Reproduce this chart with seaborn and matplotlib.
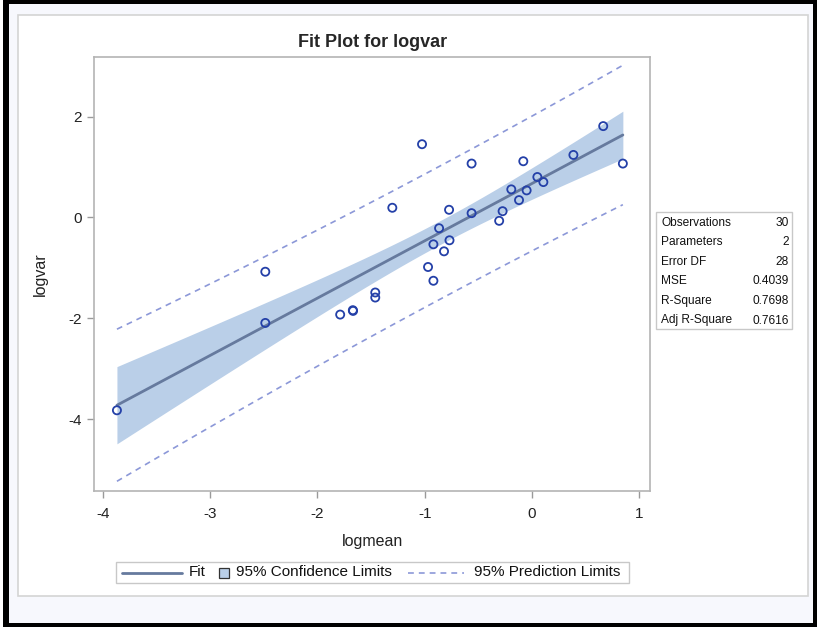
import numpy as np
import pandas as pd
import matplotlib
matplotlib.use('Agg')
import matplotlib.pyplot as plt
import seaborn as sns
from matplotlib.patches import Rectangle
from matplotlib.lines import Line2D

logmean = [-3.869, -2.486, -2.486, -1.788, -1.670, -1.668, -1.461, -1.461, -1.302, -1.025,
           -0.969, -0.919, -0.919, -0.866, -0.820, -0.773, -0.769, -0.563, -0.563, -0.306,
           -0.274, -0.193, -0.121, -0.081, -0.050, 0.050, 0.106, 0.386, 0.664, 0.847]
logvar = [-3.825, -1.076, -2.092, -1.926, -1.839, -1.853, -1.488, -1.588, 0.193, 1.454,
          -0.982, -0.532, -1.255, -0.213, -0.671, 0.153, -0.452, 1.070, 0.086, -0.066,
          0.125, 0.558, 0.345, 1.116, 0.538, 0.803, 0.703, 1.241, 1.813, 1.070]

stat_names = ['Observations', 'Parameters', 'Error DF', 'MSE', 'R-Square', 'Adj R-Square']
stat_values = ['30', '2', '28', '0.4039', '0.7698', '0.7616']

df = pd.DataFrame({'logmean': logmean, 'logvar': logvar})

# least squares fit with 95% confidence and prediction limits
x = df['logmean'].to_numpy()
y = df['logvar'].to_numpy()
n = len(x)
b1, b0 = np.polyfit(x, y, 1)
resid = y - (b0 + b1 * x)
s = np.sqrt(np.sum(resid ** 2) / (n - 2))
t = 2.0484  # t(0.975, 28)
xg = np.linspace(x.min(), x.max(), 200)
yg = b0 + b1 * xg
sxx = np.sum((x - x.mean()) ** 2)
se_m = s * np.sqrt(1 / n + (xg - x.mean()) ** 2 / sxx)
se_p = s * np.sqrt(1 + 1 / n + (xg - x.mean()) ** 2 / sxx)
fit = pd.DataFrame({'x': xg, 'fit': yg,
                    'lcl': yg - t * se_m, 'ucl': yg + t * se_m,
                    'lpl': yg - t * se_p, 'upl': yg + t * se_p})

sns.set_style('white')
plt.rcParams['font.family'] = ['Liberation Sans', 'DejaVu Sans']

fig = plt.figure(figsize=(8.17, 6.27), dpi=100, facecolor='black')
W, H = 817, 627


def px_rect(x0, y0, x1, y1, **kw):
    return Rectangle((x0 / W, 1 - y1 / H), (x1 - x0) / W, (y1 - y0) / H,
                     transform=fig.transFigure, **kw)


def px(xp, yp):
    return xp / W, 1 - yp / H


fig.patches.append(px_rect(0, 0, 3.5, 627, facecolor='white', edgecolor='none', zorder=-4))
fig.patches.append(px_rect(9, 4, 812.7, 622.7, facecolor='#F7F8FD', edgecolor='none', zorder=-3))
fig.patches.append(px_rect(18, 15.3, 808.3, 595.7, facecolor='white', edgecolor='#D4D4D4',
                           linewidth=1.2, zorder=-2))

ax = fig.add_axes([94.3 / W, 1 - 490.7 / H, (650 - 94.3) / W, (490.7 - 56.7) / H])

c_band = '#BACFE8'
c_fit = '#667A9E'
c_pred = '#8C98D8'
c_mark = '#2440A8'
dash = (0, (3.5, 3))

ax.fill_between(fit['x'], fit['lcl'], fit['ucl'], color=c_band, linewidth=0, zorder=1)
sns.lineplot(data=fit, x='x', y='fit', ax=ax, color=c_fit, linewidth=2, zorder=2)
sns.lineplot(data=fit, x='x', y='lpl', ax=ax, color=c_pred, linewidth=1.2,
             linestyle=dash, zorder=2)
sns.lineplot(data=fit, x='x', y='upl', ax=ax, color=c_pred, linewidth=1.2,
             linestyle=dash, zorder=2)
sns.scatterplot(data=df, x='logmean', y='logvar', ax=ax, marker='o', s=34,
                facecolor='none', edgecolor=c_mark, linewidth=1.3, zorder=3)

ax.set_xlim(-4.08, 1.10)
ax.set_ylim(-5.42, 3.19)
ax.set_xticks([-4, -3, -2, -1, 0, 1])
ax.set_yticks([-4, -2, 0, 2])
ax.set_xticklabels(['-4', '-3', '-2', '-1', '0', '1'])
ax.set_yticklabels(['-4', '-2', '0', '2'])
for sp in ax.spines.values():
    sp.set_color('#B4B4B4')
    sp.set_linewidth(1.2)
ax.tick_params(axis='both', direction='out', length=5, width=1, color='#9A9A9A',
               labelsize=11, labelcolor='#222222', pad=4, bottom=True, left=True)
ax.tick_params(axis='x', pad=7)
ax.set_xlabel('logmean', fontsize=11.5, color='#222222', labelpad=9)
ax.set_ylabel('logvar', fontsize=11.5, color='#222222', labelpad=15)
ax.set_title('Fit Plot for logvar', fontsize=13, fontweight='bold', pad=7)

# statistics table
fig.patches.append(px_rect(656, 212, 792, 329, facecolor='white', edgecolor='#C8C8C8',
                           linewidth=1, zorder=1))
for i, (nm, val) in enumerate(zip(stat_names, stat_values)):
    yy = 1 - (222.5 + i * 19.6) / H
    fig.text(661 / W, yy, nm, fontsize=8.6, va='center', ha='left', color='#111111')
    fig.text(789 / W, yy, val, fontsize=8.6, va='center', ha='right', color='#111111')

# legend drawn by hand to match spacing
ly = 572.5
fig.patches.append(px_rect(115.7, 562, 629, 583, facecolor='white', edgecolor='#C8C8C8',
                           linewidth=1, zorder=1))
x0, y0 = px(122, ly)
x1, _ = px(182, ly)
fig.add_artist(Line2D([x0, x1], [y0, y0], color=c_fit, linewidth=2, transform=fig.transFigure))
fig.text(px(189, ly)[0], y0, 'Fit', fontsize=11, va='center', ha='left', color='#111111')
fig.patches.append(px_rect(219, 568, 228.5, 577.5, facecolor=c_band, edgecolor='#333333',
                           linewidth=0.9, zorder=2))
fig.text(px(236, ly)[0], y0, '95% Confidence Limits', fontsize=11, va='center', ha='left',
         color='#111111')
x0, _ = px(407.5, ly)
x1, _ = px(464, ly)
fig.add_artist(Line2D([x0, x1], [y0, y0], color=c_pred, linewidth=1.2, linestyle=dash,
                      transform=fig.transFigure))
fig.text(px(474, ly)[0], y0, '95% Prediction Limits', fontsize=11, va='center', ha='left',
         color='#111111')

fig.savefig('out.png', dpi=100, facecolor=fig.get_facecolor())
